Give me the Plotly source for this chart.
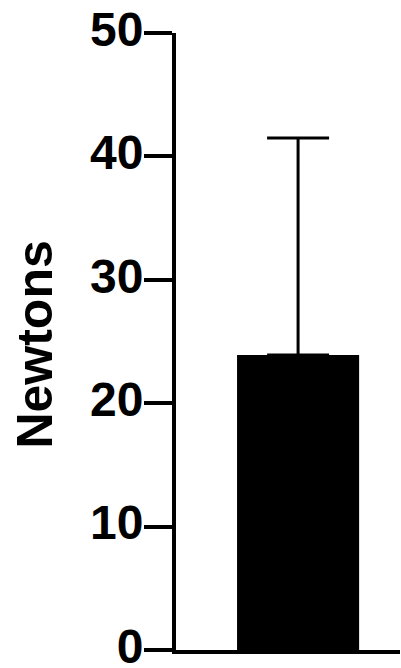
import plotly.graph_objects as go

categories = ["Group"]
means = [23.9]
errors_up = [17.6]
y_ticks = [0, 10, 20, 30, 40, 50]
y_title = "Newtons"

FONT = "Arial, 'Liberation Sans', Helvetica, sans-serif"

fig = go.Figure()
fig.add_trace(go.Bar(
    x=[0],
    y=means,
    width=0.545,
    marker=dict(color="black", line=dict(width=0)),
    error_y=dict(type="data", array=errors_up, arrayminus=[0], symmetric=False,
                 color="black", thickness=3, width=31),
    hoverinfo="skip",
))

fig.update_layout(
    width=401, height=668,
    margin=dict(l=176, r=1, t=33, b=18, autoexpand=False),
    paper_bgcolor="white", plot_bgcolor="white",
    showlegend=False,
    font=dict(family=FONT, color="black", size=48, weight=700),
    xaxis=dict(range=[-0.545, 0.455], showline=True, linecolor="black", linewidth=4,
               showticklabels=False, ticks="", showgrid=False, zeroline=False,
               automargin=False, fixedrange=True),
    yaxis=dict(range=[0, 50], tickvals=y_ticks, ticktext=[str(v) for v in y_ticks],
               showline=True, linecolor="black", linewidth=4,
               ticks="outside", ticklen=28, tickwidth=4, tickcolor="black",
               ticklabeloverflow="allow", ticklabelstandoff=-9, ticklabelshift=-4,
               showgrid=False, zeroline=False, automargin=False,
               tickfont=dict(family=FONT, size=48, color="black", weight=700),
               fixedrange=True),
    annotations=[dict(
        text=y_title, textangle=-90,
        xref="paper", yref="paper",
        x=(35 - 176) / 224, y=0.495,
        xanchor="center", yanchor="middle",
        showarrow=False,
        font=dict(family=FONT, size=50, color="black", weight=700),
    )],
)

fig.write_html(
    "out.html",
    config={"displayModeBar": False},
    post_script="document.body.style.margin='0';document.body.style.overflow='hidden';",
)
